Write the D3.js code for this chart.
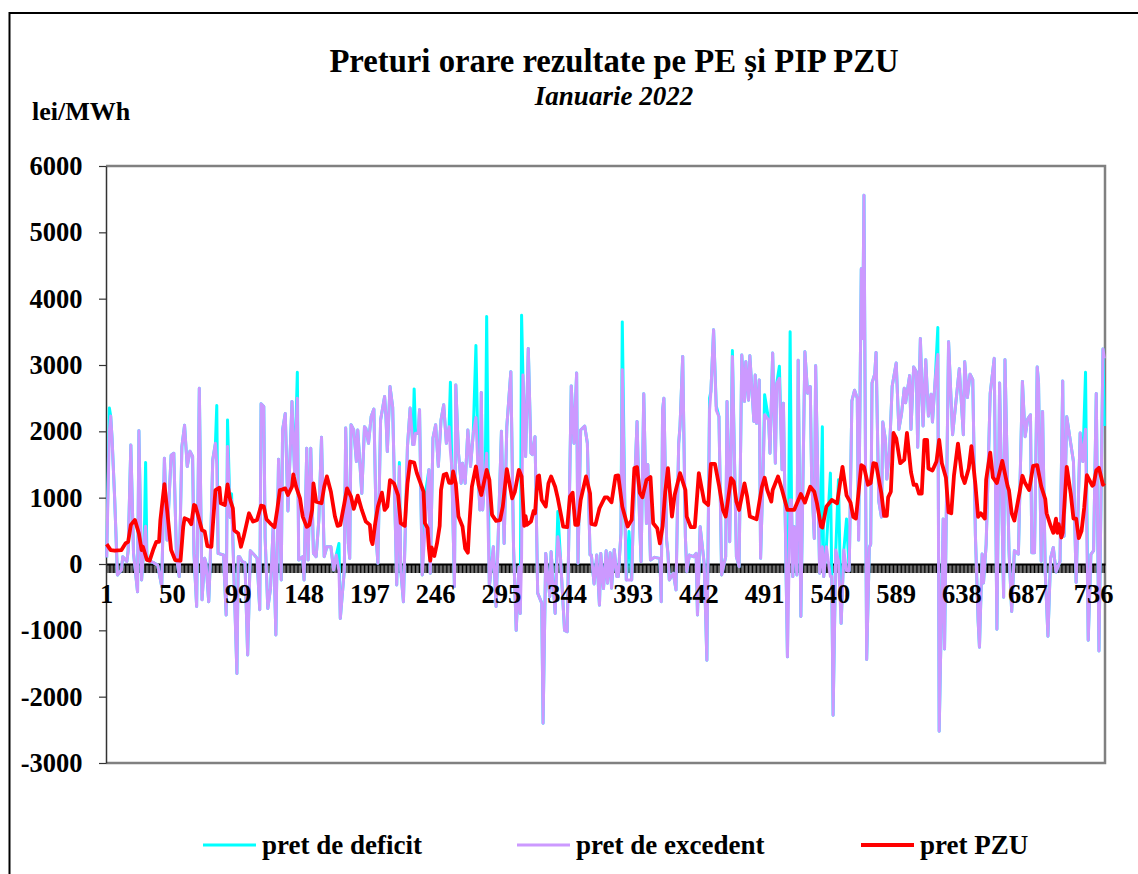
<!DOCTYPE html>
<html>
<head>
<meta charset="utf-8">
<script src="https://cdn.jsdelivr.net/npm/d3@7"></script>
<style>
  html, body { margin: 0; padding: 0; background: #fff; }
  text { font-family: "Liberation Serif", serif; font-weight: bold; fill: #000; }
</style>
</head>
<body>
<div id="canvas"></div>
<script>
// values, only the vertices of the lines
const hours = [
  1,3,4,5,7,9,12,13,16,17,
  19,21,24,25,27,29,30,31,36,39,
  42,44,46,49,51,53,55,57,59,61,
  63,65,66,68,70,72,74,75,77,78,
  80,82,83,84,88,90,91,93,94,98,
  99,100,102,104,106,108,111,113,115,116,
  118,119,121,123,125,127,129,131,132,134,
  136,138,139,141,143,144,147,148,150,151,
  153,155,157,159,161,163,165,168,170,172,
  174,175,178,179,181,182,183,185,187,188,
  191,193,194,196,198,200,202,203,205,208,
  209,210,212,214,217,219,220,222,225,227,
  229,230,231,233,234,236,238,241,242,244,
  246,248,250,252,254,256,257,258,260,261,
  263,265,266,268,270,272,274,276,278,279,
  280,281,283,284,286,289,291,295,297,299,
  302,304,306,308,309,310,311,313,315,317,
  318,320,322,325,326,328,331,332,335,337,
  339,342,344,347,349,351,352,354,357,359,
  361,362,364,366,368,369,371,373,374,376,
  377,379,381,382,384,385,387,388,390,392,
  393,396,398,399,401,403,404,406,409,413,
  414,415,416,418,419,420,423,425,427,428,
  430,432,433,435,438,440,441,443,446,448,
  450,451,453,455,457,459,462,463,465,467,
  470,472,474,476,477,479,480,483,484,485,
  487,488,490,491,494,495,497,499,500,502,
  504,505,508,510,511,512,513,515,516,518,
  521,523,525,526,528,529,532,534,535,537,
  540,541,542,544,546,548,550,552,554,556,
  558,560,561,563,564,565,566,567,569,570,
  571,573,574,576,578,579,581,582,584,586,
  589,591,593,595,596,599,600,602,604,605,
  607,609,611,613,615,616,618,620,621,624,
  625,628,631,633,636,639,640,642,644,646,
  648,650,651,653,654,656,659,662,664,666,
  669,670,673,675,677,680,683,685,687,689,
  690,692,694,695,697,698,700,702,704,706,
  708,711,713,714,716,719,721,723,726,728,
  730,732,734,736,738,740,743,744
];

const pretExcedent = [
  100,2000,2230,1900,965,-165,-90,110,35,200,
  1795,160,-420,2010,-240,360,570,60,20,-20,
  -340,1595,360,1640,1670,110,-190,1770,2090,1470,
  1700,1620,160,-640,2650,-540,85,10,-570,-50,
  1570,1820,1500,160,135,-770,1770,700,965,-1650,
  110,110,35,20,-1370,200,135,85,-690,2415,
  2375,400,-670,-370,560,-1070,1580,-240,2020,2270,
  800,1870,2450,1350,2500,60,110,-240,1745,60,
  1745,160,110,660,1910,110,260,260,-90,135,
  -100,-820,-90,2050,310,85,2100,2020,1545,2020,
  1065,2070,2045,1820,2225,2335,310,10,2170,2525,
  2215,1695,2675,2365,-315,1470,-90,-570,1770,2350,
  1800,1800,1970,1970,2325,-165,500,1420,-140,1900,
  2100,1470,2170,2400,1820,2070,1700,1470,-340,2700,
  1670,1217,1520,1217,2020,1470,1970,2210,1200,815,
  2585,815,1400,1670,-340,260,-640,2000,310,2070,
  2900,260,-1000,-40,-745,100,2850,1620,3250,1670,
  1650,1920,-440,-590,-2400,160,-490,185,-745,410,
  85,-1000,-1020,2685,1820,2880,10,2020,2080,1820,
  135,135,-300,135,-620,160,-370,200,-290,170,
  -365,220,-190,-190,460,2930,710,-240,-240,-240,
  560,2150,560,35,2565,610,1500,60,100,85,
  -570,2320,2500,360,160,-240,-140,-390,1820,2075,
  3130,410,-115,135,110,160,-770,560,10,-1450,
  2320,2600,3530,2320,2220,-165,110,2450,335,3130,
  110,-40,3150,2450,3050,2470,3140,2150,2850,2120,
  2775,85,1500,2250,2170,1670,3180,1520,2720,2800,
  1420,2425,-1400,965,965,-190,560,-165,3070,-790,
  3200,2575,2675,1320,385,2990,-140,260,-190,260,
  -190,-190,-2280,210,50,-895,210,-100,-100,2460,
  2620,2500,360,4450,3400,5560,2000,-1440,250,300,
  2730,2860,3190,950,710,2140,1870,1280,1700,2680,
  3030,2030,2270,2650,2430,2840,2030,2970,2900,1760,
  3400,2080,3080,2230,2560,2140,2760,3160,-2520,680,
  -1280,3350,1950,2350,2945,1950,3050,2510,2860,2780,
  420,-850,-1255,150,-285,300,2570,3100,-985,2730,
  -500,3080,200,-715,200,150,2750,1920,2190,2250,
  170,170,2970,2730,40,2300,-120,-1090,90,250,
  -120,40,2760,420,2220,1815,1545,-280,1975,1545,
  2030,-1150,145,200,2570,-1310,3240,3100
];

const pretDeficit = [
  100,2350,2230,1900,965,-165,-90,110,35,200,
  1795,160,-420,2010,-240,360,1530,60,20,-20,
  -340,1595,360,1640,1670,110,-190,1770,2090,1470,
  1700,1620,160,-640,2650,-540,85,10,-570,-50,
  1570,1820,2390,160,135,-770,2170,700,1060,-1650,
  110,110,35,20,-1370,200,135,85,-690,2415,
  2375,400,-670,-370,560,-1070,1580,-240,2020,2270,
  800,1870,2450,1350,2890,60,110,-240,1745,60,
  1745,160,110,660,1910,110,260,260,-90,135,
  310,-820,-90,2050,310,85,2100,2020,1545,2020,
  1065,2070,2045,1820,2225,2335,310,10,2170,2525,
  2215,1695,2675,2365,-315,1530,-90,-570,1770,2350,
  1800,2640,1970,1970,2325,-165,1015,1420,-140,1900,
  2100,1470,2170,2400,1820,2070,2740,1470,-340,2700,
  1670,1217,1520,1217,2020,1470,1970,3295,1200,815,
  2585,815,1400,3730,-340,260,-640,2000,310,2070,
  2900,260,-1000,-40,-745,3750,2850,1620,3250,1670,
  1650,1920,-440,-590,-2400,160,-490,185,-745,790,
  85,-1000,-1020,2685,1820,2880,10,2020,2080,1820,
  135,135,-300,135,-620,160,-370,200,-290,170,
  -365,220,-190,-190,460,3650,710,-240,490,-240,
  560,2150,560,35,2565,610,1500,60,100,85,
  -570,2320,2500,360,160,-240,-140,-390,1820,2075,
  3130,410,-115,135,110,160,-770,560,10,-1450,
  2500,2600,3530,2380,2220,-165,110,2450,335,3220,
  110,-40,3150,2450,3050,2470,3140,2150,2850,2120,
  2775,85,1500,2550,2170,1670,3180,1520,2720,2980,
  1420,2425,-1400,3500,965,-190,560,-165,3070,-790,
  3200,2575,2675,1320,385,2990,-140,2070,-190,260,
  1370,-190,-2280,210,1270,-895,210,680,-100,2460,
  2620,2500,360,4450,3400,5560,2000,-1440,250,300,
  2730,2860,3190,950,710,2140,1870,1280,1700,2680,
  3030,2030,2270,2650,2430,2840,2030,2970,2900,1760,
  3400,2080,3080,2230,2560,2140,2760,3565,-2520,680,
  -1280,3350,1950,2350,2945,1950,3050,2510,2860,2780,
  420,-850,-1255,150,-285,300,2570,3100,-985,2730,
  -500,3080,200,-715,200,150,2750,1920,2190,2250,
  170,170,2970,2730,40,2300,-120,-1090,90,250,
  -120,40,2760,420,2220,1815,1545,-280,1975,1545,
  2890,-1150,145,200,2570,-1310,3240,2080
];

const pzuHours = [
  1,4,7,12,15,17,19,22,25,27,28,31,33,36,38,40,41,44,46,49,52,56,58,59,62,64,66,67,69,72,
  74,76,79,80,82,85,86,89,91,93,95,96,99,101,103,107,110,113,116,118,120,123,126,128,130,132,134,136,139,140,
  142,145,147,150,152,154,155,157,161,163,165,168,171,173,175,178,180,183,185,188,191,194,197,198,199,201,203,206,208,210,
  212,215,218,220,223,225,227,230,232,237,238,240,241,242,243,245,247,249,250,252,254,256,258,259,261,263,266,268,270,271,
  273,276,278,280,284,286,288,291,294,296,299,303,305,308,310,312,313,314,317,319,320,322,323,325,328,330,332,335,337,341,
  344,346,348,350,352,354,358,361,362,365,368,372,374,377,380,382,385,389,392,394,396,398,400,403,406,408,411,413,415,417,
  419,422,424,428,432,433,436,439,442,446,449,451,454,457,460,462,466,468,470,472,476,478,480,485,489,491,493,496,497,501,
  504,508,513,518,521,525,528,530,533,534,537,541,545,549,552,555,557,559,563,565,568,570,572,574,577,578,580,582,583,585,
  587,589,592,595,597,600,602,604,606,608,610,612,613,616,619,621,623,626,628,630,632,635,638,640,643,645,648,650,652,655,
  656,659,661,664,668,672,673,675,677,681,683,685,688,691,694,697,700,701,704,706,708,709,710,712,713,716,719,721,723,725,
  727,729,731,733,735,736,738,740,743,744
];

const pretPzu = [
  300,210,200,210,310,335,590,665,460,210,260,60,50,235,335,335,665,1205,815,210,60,50,560,690,665,600,890,880,740,510,
  490,270,260,560,1115,1150,915,890,1200,965,840,510,460,260,410,765,640,665,880,870,675,610,555,815,1115,1125,1140,1040,1165,1350,
  1170,990,715,560,590,815,1215,940,915,1165,1320,1090,715,575,590,915,1140,1015,830,1030,815,640,590,360,300,615,865,1075,815,865,
  1265,1215,1040,615,575,1215,1545,1530,1370,1090,615,540,235,50,250,120,310,575,1115,1345,1360,1225,1225,1395,1215,715,565,235,170,565,
  1165,1470,1190,1040,1420,1270,740,650,660,865,1430,990,1090,1420,1320,575,720,590,640,800,765,1320,1335,965,865,1215,1320,1165,990,565,
  555,1015,1075,590,590,965,1320,1065,605,590,840,1005,1005,930,1330,1335,865,565,665,1445,1460,1075,1005,1265,1310,615,540,310,565,1090,
  1445,715,1040,1370,1115,715,555,555,1370,940,890,1510,1510,1190,815,715,1295,1240,940,815,1215,1015,715,675,1165,1300,1115,940,1115,1320,
  1115,815,815,1055,925,1165,1090,915,565,550,865,965,915,1465,1035,925,710,685,1490,1465,1195,1220,1520,1510,1170,1060,725,725,1005,1090,
  1975,1895,1520,1570,1975,1385,1195,1195,1060,1060,1870,1870,1440,1410,1545,1870,1520,1305,780,765,1330,1815,1330,1220,1440,1775,1195,710,765,685,
  1275,1680,1305,1220,1555,1170,1110,765,655,1090,1330,1220,1115,1480,1490,1170,980,765,575,470,685,470,600,400,470,1465,1060,685,685,390,
  495,845,1340,1260,1180,1195,1410,1450,1195,1220
];

const yTicks = [6000, 5000, 4000, 3000, 2000, 1000, 0, -1000, -2000, -3000];
const xTickLabels = [1, 50, 99, 148, 197, 246, 295, 344, 393, 442, 491, 540, 589, 638, 687, 736];
const legendLabels = ["pret de deficit", "pret de excedent", "pret PZU"];

const width = 1138, height = 874;
const plot = { left: 106, right: 1105, top: 166, bottom: 763 };

const svg = d3.select("#canvas")
    .append("svg")
    .attr("width", width)
    .attr("height", height)
    .style("display", "block");

// outer frame, runs off the bottom and the right of the picture
svg.append("rect")
    .attr("x", 9.5).attr("y", 13)
    .attr("width", 1140).attr("height", 900)
    .attr("fill", "#fff")
    .attr("stroke", "#000")
    .attr("stroke-width", 2);

const x = d3.scaleBand()
    .domain(d3.range(1, 745))
    .range([plot.left, plot.right]);

const y = d3.scaleLinear()
    .domain([-3000, 6000])
    .range([plot.bottom, plot.top]);

// grey plot border
svg.append("path")
    .attr("d", `M${plot.left},${plot.top}H${plot.right}V${plot.bottom}H${plot.left}`)
    .attr("fill", "none")
    .attr("stroke", "#808080")
    .attr("stroke-width", 2.5);

// hourly ticks go under the lines
const xTicks = svg.append("g")
    .attr("transform", `translate(0,${y(0)})`)
    .call(d3.axisBottom(x)
        .tickValues(d3.range(1, 745))
        .tickSizeInner(9)
        .tickSizeOuter(0)
        .tickFormat(""));
xTicks.selectAll("line").attr("stroke", "#000").attr("stroke-width", 1);
xTicks.select(".domain").attr("stroke", "#000").attr("stroke-width", 2);

const yAxis = svg.append("g")
    .attr("transform", `translate(${plot.left},0)`)
    .call(d3.axisLeft(y)
        .tickValues(yTicks)
        .tickSizeInner(7)
        .tickSizeOuter(0)
        .tickPadding(16.5)
        .tickFormat(d => String(d)));
yAxis.selectAll("line").attr("stroke", "#333").attr("stroke-width", 1.2);
yAxis.select(".domain").attr("stroke", "#333").attr("stroke-width", 1.5);
yAxis.selectAll("text").style("font-size", "26.5px").style("font-family", null);

const line = d3.line()
    .x(d => x(d[0]) + x.bandwidth() / 2)
    .y(d => y(d[1]));

function drawSeries(xs, ys, color, w) {
    svg.append("path")
        .datum(d3.zip(xs, ys))
        .attr("fill", "none")
        .attr("stroke", color)
        .attr("stroke-width", w)
        .attr("stroke-linejoin", "round")
        .attr("d", line);
}

drawSeries(hours, pretDeficit, "#00ffff", 3);
drawSeries(hours, pretExcedent, "#cc99ff", 3);
drawSeries(pzuHours, pretPzu, "#ff0000", 3.8);

// the labels sit on top of the lines
const xLabels = svg.append("g")
    .attr("transform", `translate(0,${y(0)})`)
    .call(d3.axisBottom(x)
        .tickValues(xTickLabels)
        .tickSize(0)
        .tickPadding(20));
xLabels.select(".domain").remove();
xLabels.selectAll("text").style("font-size", "26.5px").style("font-family", null);

// titles
svg.append("text")
    .attr("x", 614).attr("y", 72)
    .attr("text-anchor", "middle")
    .style("font-size", "32.7px")
    .text("Preturi orare rezultate pe PE și PIP PZU");
svg.append("text")
    .attr("x", 614).attr("y", 105)
    .attr("text-anchor", "middle")
    .style("font-size", "27px")
    .style("font-style", "italic")
    .text("Ianuarie 2022");
svg.append("text")
    .attr("x", 32).attr("y", 120)
    .style("font-size", "26px")
    .text("lei/MWh");

// legend
const legendColors = ["#00ffff", "#cc99ff", "#ff0000"];
const legendX = [203, 517, 861];
const legendW = [3, 3, 3.8];
const legend = svg.append("g").selectAll("g")
    .data(legendLabels)
    .join("g")
    .attr("transform", (d, i) => `translate(${legendX[i]},845)`);
legend.append("line")
    .attr("x1", 0).attr("x2", 53)
    .attr("stroke", (d, i) => legendColors[i])
    .attr("stroke-width", (d, i) => legendW[i]);
legend.append("text")
    .attr("x", 59).attr("y", 9)
    .style("font-size", "27px")
    .text(d => d);
</script>
</body>
</html>
